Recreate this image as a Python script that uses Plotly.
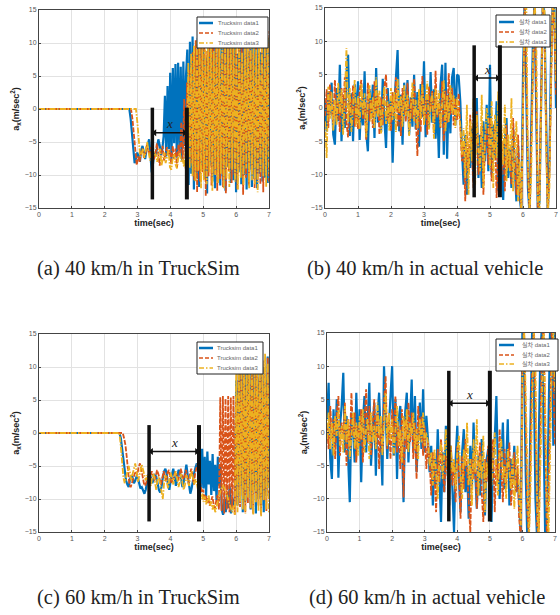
import numpy as np
import plotly.graph_objects as go

# ---------------- DATA ----------------
# (a) 40 km/h in TruckSim : flat 0 until onset, then samples uniformly spaced to 7 s
a_onset = [2.75, 2.80, 2.95]
a_data1 = [0, -1.5, -4, -6.5, -8.2, -7.5, -6.6, -7.2, -8.0, -6.2, -5.6, -6.5, -7.6, -6.1, -5.2, -4.6,
           -7.0, -9.6, -8.2, -6.6, -7.1, -6.0, -4.6, -5.5, -7.0, -6.1, -4.2,
           2.0, -7.2, 3.5, -6.1, 5.5, -8.0, 6.2, -5.2, 6.8, -7.4, 7.0, -6.3, 6.4, -7.8, 7.2, -5.6, 5.0,
           9.0, -11.5, 10.2, -9.8, 11.0, -12.2, 8.5, -10.4, 10.8, -11.8, 9.6, -9.0, 11.6, -10.6, 7.8, -12.8,
           10.4, -8.6, 11.2, -11.0, 9.4, -12.0, 10.6, -9.4, 8.8, -11.6, 11.4, -10.2, 9.8, -12.4, 10.0, -8.8,
           11.8, -11.2, 9.2, -10.8, 10.6, -12.6, 8.4, -9.6, 11.0, -11.4, 9.8, -10.0, 12.0, -12.2, 8.8, -9.2,
           10.4, -11.8, 9.6, -10.6, 11.2, -12.0, 10.0, -9.8, 8.6, -11.0, 11.6, -10.4, 9.4, -11.2, 10.8]
a_data2 = [0, -1.5, -3.5, -6.5, -8.5,
           -7.2, -8.0, -6.6, -6.0, -7.4, -6.8, -5.5, -6.2, -7.0, -5.8,
           -6.4, -7.6, -6.8, -5.2, -7.2, -8.6, -6.4, -5.6, -7.8, -6.6, -5.8, -7.0,
           -6.2, -8.4, -5.6, -7.6, -6.0, -8.8, -5.4, -7.2,
           -2.0, -8.0, 1.5, -9.0, 4.0, -7.5, 6.0, -8.2,
           8.6, -10.8, 10.4, -12.6, 9.2, -11.0, 11.8, -9.6, 10.0, -13.2, 8.8, -10.2, 12.2, -11.6, 9.4, -9.8,
           11.0, -12.4, 10.2, -10.6, 8.2, -11.8, 11.4, -12.8, 9.8, -9.4, 10.8, -11.2, 12.0, -10.0, 9.0, -12.2,
           10.6, -9.2, 11.6, -13.0, 9.6, -10.4, 10.0, -11.6, 12.4, -9.6, 8.4, -12.0, 11.2, -10.8, 9.2, -11.4,
           10.8, -12.6, 9.4, -10.0, 11.8, -11.0]
a_data3 = [0, -2.0, -5.0, -7.2, -6.8,
           -6.0, -7.4, -6.2, -5.0, -6.6, -7.8, -6.4, -5.6, -7.0,
           -6.8, -8.0, -7.2, -6.0, -8.6, -7.6, -6.6, -8.2, -7.0, -6.2, -8.8, -9.2, -7.4, -6.8, -8.4, -9.0,
           -7.2, -6.6, -8.0, -7.6, -8.8, -6.4, -7.2,
           7.0, -9.0, 8.4, -10.2, 9.6, -11.0, 10.2, -9.4, 9.8, -12.0, 10.6, -10.8, 9.0, -11.4, 10.4, -9.6,
           11.0, -12.4, 8.8, -10.0, 10.6, -11.2, 9.4, -9.8, 11.2, -12.0, 10.0, -10.6, 9.2, -11.8, 10.8, -9.2,
           10.4, -11.0, 9.6, -12.2, 11.4, -10.4, 8.6, -11.6, 10.2, -9.0, 11.0, -12.0, 9.8, -10.8, 10.6, -11.4,
           9.0, -12.6, 11.6, -9.6, 10.0, -10.2, 9.4, -11.8, 10.8, -9.8]

# (b) 40 km/h in actual vehicle : samples uniformly spaced over 0..7 s
b_data1 = [1.0, -3.5, 2.5, -1.0, 3.8, -4.0, -5.5, 3.0, -2.0, 6.5, -5.0, 1.5, -3.0, 5.2, 8.0, -4.2, 2.2, -5.0, 3.6, -1.5,
           4.0, -4.8, 1.2, -2.6, 5.5, -3.8, -6.5, 2.8, -1.0, 3.5, -4.5, 6.0, -2.2, 0.8, -3.6, 4.4, -1.8, -6.0, 3.0, -2.4,
           1.5, -8.2, 0.5, 4.5, 8.7, -3.5, 2.0, -5.5, 3.8, -1.2, 4.2, -4.0, 1.6, -2.8, 5.0, -3.2, 2.4, -5.8, 3.6, -1.4,
           7.0, -4.4, 1.8, -3.0, 5.4, -2.2, 2.8, -4.6, 0.6, -7.5, 3.4, 6.5, -7.0, 6.8, -7.6, 2.2, -3.8, 4.6, 6.0, -2.6,
           5.0, 4.8, 1.0, -6.0, -11.5, -4.0, -13.0, -6.5, -9.0, -3.0, -11.0, -5.5, 1.5, -10.5, -4.0, -12.0, -2.0, -8.0, 0.5, -9.5,
           6.5, -10.0, -2.5, -7.5, 1.0, -12.5, -4.0, -8.5, -13.8, -5.0, -1.5, -10.5, -6.0, -12.0, -3.0, -9.0, -14.0, -5.5, -13.5, -15.5,
           5.0, 16, 2.0, -12.0, -16, -4.0, 10.0, 16, 0.0, -16, -14, 2.0, 16, 14, -2.0, -16, -8.0, 8.0, 16, 16, 0.0]
b_data2 = [-1.2, 2.8, -3.0, 3.6, 0.5, -2.4, 4.2, -1.8, 1.0, -3.6, 3.0, -0.6, 4.6, -2.2, -4.4, 2.0, -1.0, 3.4, -2.8, 0.8,
           -3.2, 2.6, 4.2, -1.6, 0.4, -4.8, 3.8, -2.0, 1.2, -3.0, 4.0, -0.8, 2.2, -4.0, 1.6, -2.6, 3.2, 5.0, -2.0, 0.6,
           -3.4, 2.4, -1.2, 4.6, -2.8, 1.0, -4.2, 3.0, 0.2, -2.0, 3.8, -3.2, 1.4, -1.6, 4.4, -0.4, -7.2, 2.0, -3.6, 4.8,
           -2.4, 1.8, -4.0, 3.2, -0.6, 2.6, -3.8, 5.6, -1.4, 0.8, -3.0, 4.0, -5.0, 2.6, -2.2, 5.2, -1.0, 3.0, -2.6, 1.4,
           -1.8, 2.2, -3.0, -8.0, -5.0, -14.0, -3.5, -9.5, -1.0, -6.5, -12.0, -4.5, -0.5, -10.0, -7.5, -2.5, -13.0, -5.5, -3.0, -8.5,
           -1.5, -11.0, -6.0, -2.0, -13.5, -7.0, -3.5, -10.0, -5.0, -12.5, -2.5, -9.0, -6.5, -11.5, -1.5, -8.0, -13.0, -4.0, -12.0, -16,
           4.0, 16, 6.0, -10.0, -16, -6.0, 8.0, 16, 2.0, -16, -12.0, 4.0, 16, 10.0, -4.0, -16, -10.0, 6.0, 16, 12.0, 2.0]
b_data3 = [-2.0, -7.5, 3.2, -1.6, 2.4, -3.4, 1.2, -2.6, 3.8, -0.8, 2.8, -4.0, 1.4, 9.0, -2.2, 3.0, -3.6, 0.6, 4.2, -2.8,
           1.8, -3.2, 3.6, -1.0, 2.2, -4.4, 0.8, 3.4, -2.0, 1.6, -3.0, 4.6, -1.4, 2.6, -3.8, 0.4, 3.2, -2.4, 1.0, -3.4,
           3.0, -1.8, 2.4, -3.6, 4.4, -0.6, 1.8, -2.8, 3.4, -1.2, 2.0, -4.2, 0.8, 3.8, -2.0, 1.2, -3.0, 2.8, -1.6, 3.6,
           -2.6, 1.4, 4.0, -3.2, 0.6, 2.2, -4.6, 3.0, -1.0, 2.6, -2.8, 0.2, 4.2, -3.6, 1.8, -2.2, 3.4, -0.8, 2.0, -3.0,
           1.6, -1.0, -2.5, -7.0, -3.0, -10.5, 0.5, -13.0, -2.0, -8.0, 1.5, -11.5, -1.0, -6.0, -9.5, 2.0, -12.0, -4.5, 0.0, -2.0,
           -9.0, 1.0, -12.0, -1.0, -7.5, 2.5, -10.5, -2.5, -8.5, 0.5, -11.0, -4.0, -9.5, 1.5, -12.5, -6.0, -2.0, -14.0, -8.0, -15.5,
           2.0, 14.0, 16, -8.0, -16, -10.0, 6.0, 16, 12.0, -14.0, -16, 0.0, 16, 16, -6.0, -16, -12.0, 4.0, 16, 16, 4.0]

# (c) 60 km/h in TruckSim
c_onset = [2.45, 2.55, 2.45]
c_data1 = [0, -0.8, -2.5, -4.0, -5.8, -7.2, -7.8, -8.2, -7.0, -6.4,
           -6.8, -7.6, -7.2, -6.6, -6.8, -7.8, -8.4, -8.2, -8.8, -9.2,
           -8.6, -7.4, -6.4, -6.0, -6.8, -7.6, -7.0, -6.4, -6.6, -7.8,
           -8.6, -9.0, -8.2, -6.8, -5.8, -5.4, -6.2, -7.8, -8.6, -7.2,
           -6.0, -5.4, -6.6, -8.0, -7.0, -5.6, -5.8, -7.2, -8.2, -7.4,
           -5.6, -4.8, -6.4, -8.2, -9.2, -8.4, -7.0, -6.0, -5.2, -4.6,
           -6.0, -3.0, -9.0, -2.4, -8.4, -3.6, -9.6, -2.8, -7.8, -4.2,
           -9.4, -3.2, -8.8, -4.8, -10.2, -3.6, -8.0, -5.0, -11.6, -12.4,
           -10.0, -12.0, -9.0, -11.4, -8.0, -12.2, -10.0, -11.0, -9.4, 8.0,
           -11.0, 10.0, -8.0, 11.8, -12.0, 9.0, -10.4, 12.0, -9.0, 10.6,
           -11.6, 9.4, -8.6, 11.2, -12.2, 8.2, -10.0, 12.6, -11.0, 10.0,
           -12.0, 9.0, -9.6, 11.6, -8.0]
c_data2 = [0, -0.8, -1.8, -3.6, -6.0, -7.8, -8.2, -7.4, -6.6, -6.2,
           -5.8, -6.4, -5.2, -4.6, -5.4, -6.8, -7.6, -8.0, -7.2, -6.8,
           -7.4, -6.6, -5.8, -6.4, -7.2, -6.6, -5.6, -6.2, -7.0, -7.8,
           -6.8, -5.8, -6.6, -7.4, -6.0, -5.6, -6.8, -7.6, -7.0, -6.2,
           -5.8, -6.6, -7.2, -6.4, -5.4, -6.2, -7.0, -6.6, -5.6, -6.8,
           -7.6, -6.2, -5.4, -6.6, -7.8, -6.0, -5.2, -4.6, -6.8, -8.2,
           -9.0, -8.6, -10.2, -9.4, -10.6, -9.8, -11.0, -10.4, -9.6, -10.8,
           -11.4, -10.2, -9.4, -11.6, 5.4, -11.8, 5.6, -12.2, 5.2, -11.6,
           5.6, -12.0, 5.4, -11.4, 5.6, -12.4, 5.2, -10.8, 9.0, -11.2,
           10.4, -9.6, 11.2, -12.0, 8.8, -10.6, 11.8, -11.4, 9.2, -12.2,
           10.6, -9.8, 12.2, -11.0, 8.6, -12.4, 11.0, -10.2, 9.6, -11.8,
           11.4, -10.0]
c_data3 = [0, -2.0, -4.6, -6.8, -7.6, -6.8, -5.6, -5.0, -6.0, -7.2,
           -6.2, -5.2, -4.6, -5.8, -7.4, -6.6, -5.4, -4.8, -5.6, -6.6,
           -7.2, -6.4, -6.8, -7.6, -8.0, -6.6, -6.2, -7.4, -8.6, -7.0,
           -6.6, -7.8, -8.8, -10.0, -7.6, -6.4, -7.2, -8.4, -7.0, -6.0,
           -6.8, -7.8, -6.4, -5.8, -7.0, -8.2, -7.4, -6.2, -7.6, -8.6,
           -7.8, -6.4, -7.2, -8.0, -6.6, -5.8, -6.8, -7.8, -7.0, -7.6,
           -8.8, -9.6, -10.0, -9.2, -10.4, -9.6, -10.8, -10.2, -9.4, -11.0,
           -10.4, -11.6, -10.8, -12.0, -11.2, -10.0, -9.4, -8.8, -8.2, -8.0,
           -8.4, -8.8, -9.4, -10.2, -10.8, -11.6, -12.0, -11.0, -12.4, 10.0,
           -12.0, 11.0, -10.4, 9.6, -11.6, 11.8, -12.2, 10.4, -9.8, 12.2,
           -11.4, 10.8, -12.4, 9.2, -10.6, 11.6, -11.8, 10.2, -12.6, 11.0,
           -10.2, 12.0, -11.6, 10.6, -12.0]

# (d) 60 km/h in actual vehicle
d_data1 = [2.0, 7.5, -4.0, -7.0, 3.5, -2.0, 5.0, -6.8, 1.0, 4.0, 9.0, -3.0, 2.5, -5.5, -10.5, 3.0, 0.5, -4.5, 6.0, -2.5,
           3.5, -7.5, 1.5, 5.5, -3.0, 2.0, 7.5, -5.0, -1.0, 4.5, -6.5, 2.5, 6.0, -2.0, -8.0, 10.0, 3.0, -4.0, 1.0, 6.5,
           10.0, -3.5, 5.0, -7.0, 2.0, 4.0, -1.5, -10.5, 3.0, 6.0, -4.5, 1.5, 8.0, -3.0, 5.5, -6.0, 0.5, 4.5, -2.5, 6.5,
           -3.0, 2.5, -1.0, -6.0, -2.0, -11.0, -4.0, -8.0, 0.5, -6.5, -13.5, -3.0, -9.0, 1.0, -5.5, -11.0, -2.0, -7.5, -15.0, -4.0,
           1.0, -7.0, -12.0, -3.0, 0.5, -9.0, -5.0, -13.0, -2.0, -8.0, 1.5, -6.0, -11.5, -3.5, -9.5, -1.0, -7.0, -12.5, -4.0, -2.5,
           -8.0, -13.5, -4.0, -1.0, 5.5, -6.0, -10.0, -3.0, 1.5, -8.5, -5.0, 2.0, -11.0, -4.0, -7.5, -2.0, -9.0, -6.0, -12.0, -15.5,
           16, 10.0, -6.0, -16, -12.0, 4.0, 16, 8.0, -10.0, -16, -4.0, 12.0, 16, 0.0, -16, -14.0, 2.0, 16, 16, -2.0, 16]
d_data2 = [1.0, -2.5, 4.0, -1.0, 2.0, -4.0, 3.0, 5.5, -3.5, 1.5, -1.0, 4.5, -5.0, 2.0, -2.5, 6.0, -0.5, 3.0, -4.5, 1.0,
           -2.0, 3.5, -4.5, 2.5, 6.5, -1.5, 4.0, -3.5, 0.5, 5.0, -2.0, 3.0, -5.5, 1.5, -3.0, 4.5, 8.5, -2.5, 2.0, -4.0,
           3.5, -1.0, 5.5, -3.0, 1.0, -5.5, 3.5, -9.8, 2.0, -2.5, 4.5, -1.5, 3.0, -4.0, 1.5, -7.0, 4.0, -1.0, 2.5, -3.5,
           1.0, -5.5, -1.5, -4.0, -9.5, -3.0, -6.0, -12.0, -2.5, -7.5, -1.0, -5.0, -9.0, -3.5, -6.5, -11.0, -2.0, -8.0, -4.5, -10.5,
           -2.0, -6.0, -13.0, -3.5, -8.5, -1.0, -5.5, -10.0, -15.0, -4.0, -7.0, -2.5, -11.5, -6.0, -1.5, -9.0, -13.5, -4.0, -7.5, -2.0,
           -9.5, -5.0, -1.0, -12.0, -4.0, -7.5, 0.5, -6.0, -10.5, -2.5, -8.0, -4.5, -1.5, -11.0, -6.5, -3.0, -9.0, -5.0, -13.0, -16.0,
           12.0, 16, 2.0, -12.0, -16, -2.0, 10.0, 16, 4.0, -14.0, -16, 0.0, 14.0, 16, -4.0, -16, -10.0, 6.0, 16, 8.0, -2.0]
d_data3 = [-1.0, 3.0, -2.5, 1.5, -3.5, 2.5, -0.5, 3.5, -2.0, 1.0, -3.0, 4.0, -1.5, 2.0, -4.0, 0.5, 3.0, -2.5, 1.5, -3.5,
           2.5, -1.0, 3.5, -3.0, 0.5, 2.0, -4.0, 3.0, -1.5, 1.0, -2.5, 4.5, -0.5, 2.5, -3.5, 1.5, 6.0, -2.0, 3.0, -1.0,
           2.0, -3.5, 1.0, 4.0, -2.0, 0.5, -4.5, 2.5, -1.0, 3.5, -3.0, 1.5, -0.5, 3.0, -2.5, 0.5, -4.0, 2.0, -1.5, 3.0,
           -2.0, 0.0, -1.5, -5.0, -3.0, -8.0, -2.5, -6.5, -10.0, -4.0, -1.5, -7.0, -3.5, 0.5, -5.5, -9.0, -2.0, -6.0, -4.0, -8.5,
           -3.0, -0.5, -6.5, -10.0, -2.5, -5.0, 1.5, -8.0, -4.0, -11.0, -1.0, -6.0, 2.0, -9.5, -3.5, -7.0, -0.5, -12.0, -4.5, -6.5,
           -2.0, -8.0, -4.0, 0.0, -6.5, -9.5, -3.0, -1.0, -7.0, -5.0, -10.0, -2.5, -6.0, -8.5, -3.5, -11.5, -5.5, -2.0, -9.0, -14.0,
           8.0, 16, 6.0, -8.0, -16, -8.0, 6.0, 16, 10.0, -10.0, -16, -6.0, 8.0, 16, 4.0, -10.0, -16, -2.0, 10.0, 16, 6.0]

# interval markers (time of the two vertical bars) and bar extents / arrow level
a_marks = [3.45, 4.50]; a_bar = [0.2, -13.7]; a_arrow = -3.6
b_marks = [4.52, 5.30]; b_bar = [9.4, -13.4]; b_arrow = 4.5
c_marks = [3.35, 4.87]; c_bar = [1.2, -13.4]; c_arrow = -2.8
d_marks = [3.74, 5.00]; d_bar = [9.3, -13.4]; d_arrow = 4.4

sim_names = ["Trucksim data1", "Trucksim data2", "Trucksim data3"]
real_names = ["실차 data1", "실차 data2", "실차 data3"]
captions = ["(a) 40 km/h in TruckSim", "(b) 40 km/h in actual vehicle",
            "(c) 60 km/h in TruckSim", "(d) 60 km/h in actual vehicle"]
x_ticks = [0, 1, 2, 3, 4, 5, 6, 7]
y_ticks = [-15, -10, -5, 0, 5, 10, 15]

# ---------------- STYLE ----------------
COLORS = ["#0072BD", "#D95319", "#EDB120"]
DASHES = ["solid", "5px,1.5px", "6px,1.5px,1.5px,1.5px"]
LEG_DASHES = ["solid", "4px,2px", "5px,2px,1.5px,2px"]
WIDTHS = [2.2, 1.8, 1.8]
W, H = 560, 615
SANS = "Arial, Liberation Sans, Noto Sans CJK KR, sans-serif"

def px_dom(a, b, total, flip=False):
    if flip:
        return [1 - b / total, 1 - a / total]
    return [a / total, b / total]

panels = [
    dict(x=px_dom(39, 269, W), y=px_dom(10, 208, H, True),
         box=(197, 17, 268, 48), rows=(23, 33, 43), samp=(199, 213), txt=216),
    dict(x=px_dom(325, 556, W), y=px_dom(8, 208, H, True),
         box=(496, 15, 550, 47), rows=(22, 32, 42), samp=(499, 514), txt=517),
    dict(x=px_dom(39, 269, W), y=px_dom(334, 532, H, True),
         box=(197, 342, 263, 374), rows=(348, 358, 368), samp=(199, 213), txt=215),
    dict(x=px_dom(327, 555, W), y=px_dom(333, 532, H, True),
         box=(496, 339, 558, 371), rows=(345, 355, 364), samp=(499, 514), txt=520),
]

fig = go.Figure()

def axes_of(idx):
    return ("x" if idx == 0 else f"x{idx+1}", "y" if idx == 0 else f"y{idx+1}")

def add_sim(idx, onsets, series, names):
    xa, ya = axes_of(idx)
    for k, (on, vals) in enumerate(zip(onsets, series)):
        t = [0.0] + list(np.linspace(on, 7.0, len(vals)))
        y = [0.0] + list(vals)
        fig.add_trace(go.Scatter(x=t, y=y, mode="lines", name=names[k], xaxis=xa, yaxis=ya,
                                 showlegend=False, hoverinfo="skip",
                                 line=dict(color=COLORS[k], width=WIDTHS[k], dash=DASHES[k])))

def add_real(idx, series, names):
    xa, ya = axes_of(idx)
    for k, vals in enumerate(series):
        t = np.linspace(0, 7.0, len(vals))
        fig.add_trace(go.Scatter(x=t, y=vals, mode="lines", name=names[k], xaxis=xa, yaxis=ya,
                                 showlegend=False, hoverinfo="skip",
                                 line=dict(color=COLORS[k], width=WIDTHS[k], dash=DASHES[k])))

add_sim(0, a_onset, [a_data1, a_data2, a_data3], sim_names)
add_real(1, [b_data1, b_data2, b_data3], real_names)
add_sim(2, c_onset, [c_data1, c_data2, c_data3], sim_names)
add_real(3, [d_data1, d_data2, d_data3], real_names)

layout = dict(width=W, height=H, margin=dict(l=0, r=0, t=0, b=0, autoexpand=False),
              paper_bgcolor="white", plot_bgcolor="white", showlegend=False)
axis_font = dict(family=SANS, size=7, color="#555")
title_font = dict(family=SANS, size=9, color="#222")
for i, p in enumerate(panels):
    sfx = "" if i == 0 else str(i + 1)
    layout["xaxis" + sfx] = dict(domain=p["x"], anchor="y" + sfx, range=[0, 7], tickvals=x_ticks,
                                 showgrid=True, gridcolor="#e2e2e2", zeroline=False, showline=True,
                                 linecolor="#444", linewidth=1, mirror=True, ticks="inside", ticklen=2,
                                 tickfont=axis_font, automargin=False,
                                 title=dict(text="<b>time(sec)</b>", font=title_font, standoff=2))
    layout["yaxis" + sfx] = dict(domain=p["y"], anchor="x" + sfx, range=[-15, 15], tickvals=y_ticks,
                                 showgrid=True, gridcolor="#e2e2e2", zeroline=False, showline=True,
                                 linecolor="#444", linewidth=1, mirror=True, ticks="inside", ticklen=2,
                                 tickfont=axis_font, automargin=False,
                                 title=dict(text="<b>a<sub>x</sub>(m/sec<sup>2</sup>)</b>", font=title_font, standoff=3))
fig.update_layout(**layout)

# hand-built legends (boxed, top-right of each panel)
names_by_panel = [sim_names, real_names, sim_names, real_names]
for i, p in enumerate(panels):
    x0, y0, x1, y1 = p["box"]
    fig.add_shape(type="rect", xref="paper", yref="paper", x0=x0 / W, x1=x1 / W,
                  y0=1 - y1 / H, y1=1 - y0 / H, line=dict(color="#222", width=1), fillcolor="white")
    for k, ry in enumerate(p["rows"]):
        fig.add_shape(type="line", xref="paper", yref="paper", x0=p["samp"][0] / W, x1=p["samp"][1] / W,
                      y0=1 - ry / H, y1=1 - ry / H,
                      line=dict(color=COLORS[k], width=2.5 if k == 0 else 1.5, dash=LEG_DASHES[k]))
        fig.add_annotation(xref="paper", yref="paper", x=p["txt"] / W, y=1 - ry / H, text=names_by_panel[i][k],
                           showarrow=False, xanchor="left", yanchor="middle",
                           font=dict(family=SANS, size=6, color="#666"))

# interval bars and double-headed arrows
marks = [(a_marks, a_bar, a_arrow), (b_marks, b_bar, b_arrow), (c_marks, c_bar, c_arrow), (d_marks, d_bar, d_arrow)]
for i, (m, bar, ay) in enumerate(marks):
    xr, yr = axes_of(i)
    for j, t in enumerate(m):
        fig.add_shape(type="line", xref=xr, yref=yr, x0=t, x1=t, y0=bar[0], y1=bar[1],
                      line=dict(color="#111", width=3.5 if j == 0 else 4))
    fig.add_trace(go.Scatter(x=[m[0] + 0.07, m[1] - 0.07], y=[ay, ay], xaxis=xr, yaxis=yr,
                             mode="lines+markers", showlegend=False, hoverinfo="skip",
                             line=dict(color="#111", width=1.5),
                             marker=dict(symbol=["triangle-left", "triangle-right"], size=6, color="#111")))
    fig.add_annotation(xref=xr, yref=yr, x=(m[0] + m[1]) / 2, y=ay, yshift=9, text="<i>x</i>",
                       showarrow=False, font=dict(family="Liberation Serif, serif", size=13, color="#222"))

cap_pos = [(138, 268), (425, 268), (138, 597), (427, 597)]
for (cx, cy), txt in zip(cap_pos, captions):
    fig.add_annotation(xref="paper", yref="paper", x=cx / W, y=1 - cy / H, text=txt, showarrow=False,
                       xanchor="center", yanchor="middle",
                       font=dict(family="Liberation Serif, Times New Roman, serif", size=20.5, color="#222"))

fig.write_html("out.html", config={"displayModeBar": False, "staticPlot": True})

# remove the default page margin so the 560x615 figure fills the window exactly
with open("out.html", "r", encoding="utf-8") as fh:
    html = fh.read()
html = html.replace("<head>", "<head><style>html,body{margin:0;padding:0;overflow:hidden;}</style>", 1)
with open("out.html", "w", encoding="utf-8") as fh:
    fh.write(html)
